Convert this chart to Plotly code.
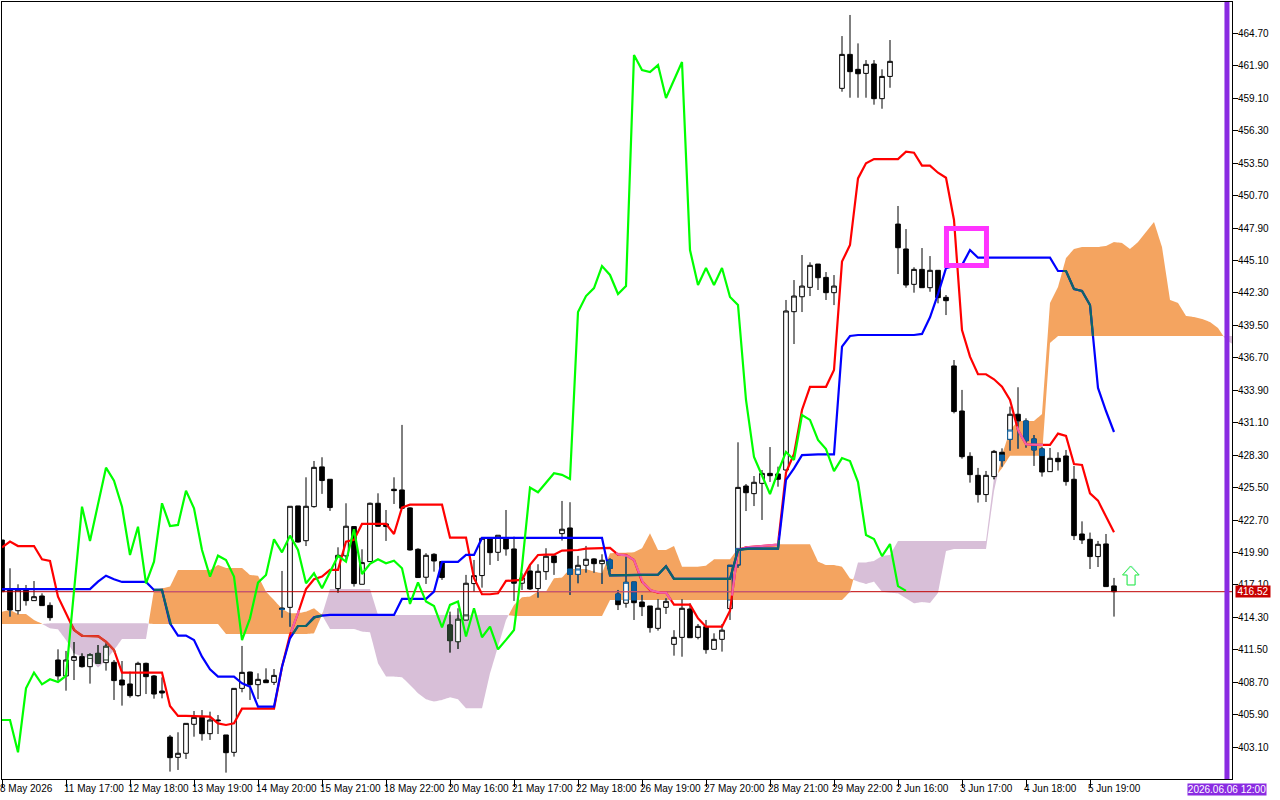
import numpy as np
import plotly.graph_objects as go

tick_bars = [0, 8, 16, 24, 32, 40, 48, 56, 64, 72, 80, 88, 96, 104, 112, 120, 128, 136]
tick_labels = ["8 May 2026", "11 May 17:00", "12 May 18:00", "13 May 19:00", "14 May 20:00", "15 May 21:00",
               "18 May 22:00", "20 May 16:00", "21 May 17:00", "22 May 18:00", "26 May 19:00", "27 May 20:00",
               "28 May 21:00", "29 May 22:00", "2 Jun 16:00", "3 Jun 17:00", "4 Jun 18:00", "5 Jun 19:00"]
price_ticks = [403.1, 405.9, 408.7, 411.5, 414.3, 417.1, 419.9, 422.7, 425.5, 428.3, 431.1, 433.9, 436.7, 439.5,
               442.3, 445.1, 447.9, 450.7, 453.5, 456.3, 459.1, 461.9, 464.7]
last_price = 416.52

opens = [420.98,416.67,414.88,416.67,415.75,416.15,415.34,410.63,409.25,410.60,
         410.92,410.05,411.20,410.40,410.43,408.90,408.56,407.55,410.34,409.25,
         407.95,403.98,402.23,402.58,405.08,405.68,404.27,405.45,404.16,402.66,
         408.18,409.59,408.50,408.90,408.70,415.11,415.17,423.92,420.92,423.86,
         427.29,426.22,416.79,419.61,422.14,417.16,419.12,424.15,422.37,425.36,
         425.30,423.75,420.18,417.77,419.75,419.12,413.65,412.21,414.08,417.22,
         417.91,421.07,419.92,421.16,420.21,417.25,418.31,416.79,418.25,419.61,
         421.53,422.02,418.02,418.80,419.35,418.94,419.26,416.32,415.52,417.36,
         415.63,415.29,413.36,415.17,411.98,412.58,415.03,412.58,413.50,411.55,
         412.41,415.06,418.82,425.64,424.98,425.87,426.73,426.68,427.02,440.68,
         441.97,442.78,444.79,443.64,442.32,459.95,462.88,461.59,461.24,462.05,
         459.06,460.98,448.24,446.09,443.04,444.33,442.75,444.25,441.92,436.00,
         432.11,428.20,426.56,424.90,426.45,428.55,429.67,431.83,431.25,429.70,
         428.84,426.88,428.03,428.23,426.22,421.50,421.04,419.55,420.64,417.02]
highs = [420.98,418.54,417.16,417.10,417.44,416.38,415.60,411.55,411.41,412.18,
         411.20,411.20,411.92,412.07,410.63,410.54,409.62,410.48,410.40,409.33,
         409.13,404.16,404.39,405.16,406.23,406.31,406.17,405.88,404.16,408.18,
         411.84,409.62,409.48,409.91,409.85,418.31,423.89,423.92,426.39,427.80,
         428.12,426.22,420.35,424.15,422.17,420.18,424.21,425.01,423.57,426.39,
         430.91,423.81,420.27,419.84,419.84,419.12,414.80,415.09,417.97,419.26,
         421.13,421.13,421.39,423.57,421.27,418.11,418.89,418.89,420.27,419.69,
         424.35,424.24,419.61,420.47,419.41,419.75,419.40,416.67,419.54,417.36,
         416.24,415.29,415.86,415.95,413.20,415.86,415.52,413.73,414.08,412.93,
         413.73,418.82,429.41,425.81,426.50,427.02,429.00,427.31,441.69,443.41,
         445.57,444.94,444.79,444.10,443.84,464.46,466.28,463.83,462.39,462.39,
         461.59,464.12,449.80,447.81,444.51,446.17,445.48,444.27,442.12,436.51,
         433.93,428.55,427.20,426.94,428.75,428.89,432.49,434.16,431.48,430.04,
         428.98,428.92,428.55,428.75,427.37,422.59,421.62,420.90,421.50,417.71]
lows = [416.52,414.37,414.57,415.32,415.75,415.32,414.02,408.85,407.98,408.90,
        409.97,408.59,410.28,409.71,407.18,406.69,407.38,407.46,407.69,407.29,
        407.32,401.00,401.14,402.09,404.01,403.67,403.73,404.24,400.91,402.29,
        407.84,407.18,407.26,408.67,408.47,414.28,413.50,420.75,420.46,423.77,
        424.96,423.49,416.44,419.26,416.96,417.16,419.12,422.14,420.90,424.09,
        423.72,420.07,417.74,417.19,418.25,417.54,411.27,411.58,414.08,416.53,
        416.87,418.83,419.17,419.63,415.72,416.67,416.67,416.01,417.54,417.97,
        420.93,416.24,417.25,418.17,418.17,417.19,418.25,414.94,415.14,414.08,
        414.42,412.99,413.16,414.60,411.00,410.91,412.55,412.41,411.17,411.55,
        411.35,414.08,418.59,423.48,423.91,422.71,425.99,425.58,426.96,437.89,
        440.65,442.03,442.55,441.69,441.25,459.66,459.14,459.14,459.14,458.54,
        458.19,460.00,443.93,442.75,442.32,442.75,442.40,441.40,440.39,431.91,
        428.00,425.93,424.21,424.26,426.22,427.31,428.69,428.86,428.95,427.37,
        426.45,426.88,426.97,425.67,420.98,420.64,418.48,418.65,416.96,414.37]
closes = [416.52,414.94,416.67,415.75,416.09,415.32,414.28,409.25,410.63,410.92,
          410.05,411.09,410.34,411.81,408.85,408.47,407.55,410.34,409.19,407.69,
          407.78,402.20,402.58,405.16,405.68,404.27,405.45,405.39,402.63,408.18,
          409.56,408.50,408.96,408.67,409.30,415.00,423.89,420.81,423.89,427.25,
          426.11,423.78,419.66,422.17,417.22,419.03,424.15,422.17,422.14,425.24,
          423.72,420.12,417.74,419.66,419.17,417.74,412.30,414.14,417.25,417.91,
          421.13,419.89,421.39,420.21,417.25,417.71,416.76,418.28,419.58,419.03,
          421.91,418.02,418.80,419.32,418.94,419.23,418.54,415.40,417.33,415.57,
          415.23,413.42,415.09,415.69,412.58,415.09,412.55,413.53,411.52,412.41,
          413.20,418.80,425.52,425.06,425.96,426.73,426.53,426.22,440.74,442.03,
          442.89,444.68,443.61,442.32,442.89,462.88,461.39,461.21,462.02,459.06,
          460.98,462.28,446.20,442.98,444.33,442.75,444.25,441.89,441.63,432.06,
          428.17,426.62,424.90,426.56,428.63,427.83,431.83,431.25,429.55,428.75,
          426.85,428.03,427.74,426.02,421.36,420.98,419.55,420.61,416.96,416.52]

tenkan = [420.35,420.84,420.46,420.46,420.46,419.31,419.17,416.09,414.66,413.22,
          412.70,412.70,412.70,412.21,411.49,409.54,409.54,409.54,409.54,409.54,
          409.54,406.66,405.80,405.80,405.80,405.80,405.74,405.16,405.02,405.16,
          406.43,406.43,406.43,406.43,406.43,410.05,412.79,414.66,416.75,417.60,
          417.82,418.40,418.40,420.84,420.99,422.37,422.37,422.37,422.37,421.50,
          423.78,424.03,424.03,424.03,424.03,424.03,421.19,421.19,421.19,417.68,
          416.30,416.30,416.38,417.45,417.48,417.54,418.83,419.69,419.72,419.72,
          420.07,420.07,420.12,420.24,420.24,420.24,420.30,419.72,419.69,419.26,
          417.39,416.67,416.44,416.44,415.40,415.40,415.40,414.22,413.50,413.50,
          413.50,414.88,420.12,420.35,420.41,420.46,420.58,420.58,426.80,428.40,
          432.20,434.20,434.20,434.20,435.65,445.00,446.43,452.18,453.48,453.85,
          453.85,453.85,453.85,454.48,454.40,453.28,453.28,452.67,452.24,448.59,
          439.10,436.80,435.28,435.28,434.85,434.21,433.06,430.47,429.24,429.18,
          429.18,429.18,430.16,429.96,427.54,427.46,425.01,424.38,423.00,421.65]
kijun = [416.75,416.75,416.75,416.75,416.75,416.75,416.75,416.75,416.75,416.75,
         416.75,416.75,417.39,417.90,417.59,417.36,417.36,417.36,417.36,416.67,
         416.67,413.79,412.73,412.73,412.35,410.92,409.82,409.19,409.19,409.19,
         408.61,408.33,406.60,406.60,406.60,410.05,412.50,413.56,413.56,414.31,
         414.46,414.52,414.52,414.52,414.52,414.52,414.52,414.52,414.52,414.52,
         415.90,415.90,415.90,415.90,416.53,419.09,419.09,419.09,419.69,419.69,
         421.16,421.16,421.16,421.16,421.16,421.16,421.16,421.16,421.16,421.16,
         421.16,421.16,421.16,421.16,421.16,421.16,417.93,417.93,417.93,417.93,
         417.93,417.93,417.99,418.71,417.62,417.62,417.62,417.62,417.62,417.62,
         417.62,417.62,420.12,420.23,420.23,420.23,420.23,420.23,426.16,427.16,
         428.31,428.37,428.37,428.37,428.37,437.66,438.58,438.67,438.67,438.67,
         438.67,438.67,438.67,438.67,438.67,438.76,440.20,442.20,444.44,444.62,
         444.70,446.00,445.34,445.34,445.34,445.34,445.34,445.34,445.34,445.34,
         445.34,445.34,444.19,444.19,442.64,442.47,441.26,434.10,432.11,430.30]
chikou = [405.45,405.45,402.66,408.18,409.54,408.53,408.96,408.73,409.25,416.67,
          423.86,420.90,424.15,427.22,426.10,423.86,419.69,422.13,417.24,419.11,
          424.15,422.19,422.28,425.24,423.71,420.12,417.82,419.63,419.26,417.82,
          412.35,414.22,417.30,417.96,421.04,419.92,421.36,420.12,417.24,418.11,
          416.82,418.25,419.61,419.12,421.91,418.05,418.92,419.32,418.97,419.20,
          418.54,415.46,417.33,415.67,415.29,413.45,415.38,415.67,412.65,415.09,
          412.59,413.51,411.55,412.36,413.22,418.69,425.50,425.10,425.88,426.74,
          426.60,426.25,440.65,442.03,442.72,444.62,443.85,442.21,442.90,462.83,
          461.53,461.36,461.96,459.12,460.67,462.22,446.00,442.98,444.45,442.98,
          444.45,441.95,441.26,433.06,428.14,426.50,424.95,426.85,428.58,427.89,
          431.77,431.34,429.61,428.83,426.93,428.05,427.79,425.98,421.41,421.06,
          419.59,420.63,417.00,416.59]
span_a = [414.80,414.94,414.60,414.60,414.08,413.75,413.36,413.27,412.35,411.20,
          410.92,410.77,409.97,410.63,411.49,412.44,412.44,412.44,412.44,416.67,
          416.81,416.96,418.39,418.39,418.39,418.39,418.39,418.83,418.57,418.57,
          418.57,417.96,417.90,416.52,415.80,415.03,414.66,414.66,414.80,415.09,
          414.52,413.31,413.31,413.31,413.31,413.08,413.02,410.35,409.20,409.20,
          409.14,408.48,407.76,407.24,407.04,407.18,407.41,407.24,406.46,406.46,
          406.46,409.48,411.78,414.08,415.38,416.04,416.10,416.53,416.53,417.68,
          417.74,418.48,418.48,418.48,418.25,418.11,419.83,419.89,419.89,419.92,
          420.26,421.56,420.12,420.12,420.46,418.68,418.68,418.68,418.77,419.31,
          419.31,419.31,420.26,420.41,420.46,420.46,420.61,420.61,420.61,420.61,
          420.61,420.61,419.11,418.82,418.82,418.68,417.67,417.39,417.19,417.39,
          416.52,416.44,416.38,415.95,415.52,415.63,415.55,416.42,420.04,420.21,
          420.21,420.21,420.21,420.21,425.20,428.31,430.47,431.25,431.25,431.25,
          431.85,441.43,442.81,445.31,446.09,446.26,446.26,446.26,446.35,446.69,
          446.61,446.09,446.69,447.56,448.42,446.26,441.69,441.43,440.31,440.22,
          440.05,439.79,439.27,438.24,437.81]
span_b = [413.73,413.73,413.73,413.73,413.73,413.73,413.79,413.79,413.79,413.79,
          413.79,413.79,413.79,413.79,413.79,413.79,413.79,413.79,413.79,413.73,
          413.73,413.73,413.73,413.73,413.73,413.73,413.73,413.73,412.87,412.87,
          412.87,412.87,412.87,412.87,412.87,412.87,412.87,412.87,412.87,412.93,
          414.52,416.76,416.76,416.76,416.76,416.76,416.76,414.52,414.52,414.52,
          414.52,414.52,414.52,414.52,414.52,414.52,414.52,414.52,414.52,414.52,
          414.52,414.52,414.52,414.52,414.43,414.43,414.43,414.43,414.43,414.43,
          414.43,414.43,414.43,414.43,414.43,414.43,415.80,415.80,415.80,415.80,
          415.80,415.80,415.80,415.80,415.80,415.80,415.80,415.80,415.80,415.80,
          415.80,415.80,415.80,415.80,415.80,415.80,415.80,415.80,415.80,415.80,
          415.80,415.80,415.80,415.80,415.80,415.80,416.52,419.05,419.05,419.17,
          419.60,419.69,420.89,420.89,420.89,420.89,420.89,420.89,420.89,420.89,
          420.89,420.89,420.89,420.89,426.33,427.17,428.26,428.26,428.26,428.26,
          428.26,437.98,438.58,438.58,438.58,438.58,438.58,438.58,438.58,438.58,
          438.58,438.58,438.58,438.58,438.58,438.58,438.58,438.58,438.58,438.58,
          438.58,438.58,438.58,438.58,438.58]
clear_bars = [91, 92]
box_bars = [118.06, 123.06]
box_prices = [444.67, 447.86]
divider_bar = 153.12
arrow_bar = 141.06
arrow_price = 417.92

ORANGE, THISTLE = "#F4A460", "#D8BFD8"
BLUE_IN, DARK_IN = "#0A5FA0", "#263D2A"
LINE_W = 2.2
A, B = np.array(span_a), np.array(span_b)
bars = np.arange(len(A))
fine = np.arange(0, len(A) - 1 + 1e-9, 0.125)
fa, fb = np.interp(fine, bars, A), np.interp(fine, bars, B)


def runs(mask):
    out, start = [], None
    for k, m in enumerate(mask):
        if m and start is None:
            start = k
        if not m and start is not None:
            out.append((start, k))
            start = None
    if start is not None:
        out.append((start, len(mask) - 1))
    return out


def inside(x_arr, y_arr, orange):
    a, b = np.interp(x_arr, bars, A), np.interp(x_arr, bars, B)
    lo, hi = np.minimum(a, b), np.maximum(a, b)
    return (y_arr >= lo) & (y_arr <= hi) & ((a >= b) == orange)


def line_overlap(series, orange):
    n = len(series)
    xf = np.arange(0, n - 1 + 1e-9, 0.125)
    yf = np.interp(xf, np.arange(n), series)
    mask = inside(xf, yf, orange)
    xs, ys = [], []
    for s, e in runs(mask):
        xs += list(xf[s:e + 1]) + [None]
        ys += list(yf[s:e + 1]) + [None]
    return xs, ys


fig = go.Figure()
# The cloud is a below-traces shape so that the candles sit on top of it.
for mask, col in ((fa >= fb, ORANGE), (fa < fb, THISTLE)):
    path = ""
    for s, e in runs(mask):
        px = list(fine[s:e + 1]) + list(fine[s:e + 1][::-1])
        py = list(fa[s:e + 1]) + list(fb[s:e + 1][::-1])
        path += "M " + " L ".join(f"{u:.3f} {v:.3f}" for u, v in zip(px, py)) + " Z "
    fig.add_shape(type="path", path=path, fillcolor=col, line=dict(width=0), layer="below")

idx = np.arange(len(opens))
O, H, L, C = map(np.array, (opens, highs, lows, closes))
normal = ~np.isin(idx, clear_bars)


def candles(sel, o, h, l, c, up_line, dn_line, up_fill, dn_fill):
    fig.add_trace(go.Candlestick(
        x=idx[sel], open=o[sel], high=h[sel], low=l[sel], close=c[sel],
        increasing=dict(line=dict(color=up_line, width=1), fillcolor=up_fill),
        decreasing=dict(line=dict(color=dn_line, width=1), fillcolor=dn_fill),
        whiskerwidth=0, hoverinfo="skip"))


candles(normal, O, H, L, C, "#000000", "#000000", "#FFFFFF", "#000000")
candles(~normal, O, H, L, C, "#000000", "#000000", "rgba(0,0,0,0)", "#000000")

for orange, col in ((True, BLUE_IN), (False, DARK_IN)):
    xw, yw = [], []
    sel = np.zeros(len(idx), bool)
    ob, hb, lb, cb = O.copy(), H.copy(), L.copy(), C.copy()
    for i in idx:
        if (A[i] >= B[i]) != orange:
            continue
        lo, hi = min(A[i], B[i]), max(A[i], B[i])
        top, bot = max(O[i], C[i]), min(O[i], C[i])
        for seg_lo, seg_hi in ((max(top, lo), min(H[i], hi)), (max(L[i], lo), min(bot, hi))):
            if seg_hi > seg_lo:
                xw += [i, i, None]
                yw += [seg_lo, seg_hi, None]
        if min(top, hi) > max(bot, lo):
            sel[i] = True
            ob[i], cb[i] = np.clip(O[i], lo, hi), np.clip(C[i], lo, hi)
            hb[i], lb[i] = max(ob[i], cb[i]), min(ob[i], cb[i])
    fig.add_trace(go.Scatter(x=xw, y=yw, mode="lines", line=dict(color=col, width=1), hoverinfo="skip"))
    s1 = sel & normal
    s2 = sel & ~normal
    candles(s1, ob, hb, lb, cb, col, col, "#FFFFFF", col)
    if s2.any():
        candles(s2, ob, hb, lb, cb, col, col, "rgba(0,0,0,0)", col)

price_x = [0, 153.75]
price_y = [last_price, last_price]
fig.add_trace(go.Scatter(x=price_x, y=price_y, mode="lines", line=dict(color="#C00000", width=1), hoverinfo="skip"))
px_x = np.arange(0, 153.75, 0.125)
pm = inside(px_x, np.full_like(px_x, last_price), True)
xs, ys = [], []
for s, e in runs(pm):
    xs += [px_x[s], px_x[e], None]
    ys += [last_price, last_price, None]
fig.add_trace(go.Scatter(x=xs, y=ys, mode="lines", line=dict(color="#C0648C", width=1), hoverinfo="skip"))


def ichi(series, base, in_orange, in_thistle):
    fig.add_trace(go.Scatter(x=list(range(len(series))), y=series, mode="lines",
                             line=dict(color=base, width=LINE_W), hoverinfo="skip"))
    for orange, col in ((True, in_orange), (False, in_thistle)):
        if col is None:
            continue
        xs, ys = line_overlap(np.array(series), orange)
        fig.add_trace(go.Scatter(x=xs, y=ys, mode="lines", line=dict(color=col, width=LINE_W), hoverinfo="skip"))


ichi(tenkan, "#FF0000", "#F060A8", "#D8402C")
ichi(kijun, "#0000FF", "#0E6666", None)
ichi(chikou, "#00FF00", None, None)

fig.add_shape(type="rect", x0=box_bars[0], x1=box_bars[1], y0=box_prices[0], y1=box_prices[1],
              line=dict(color="#FF33FF", width=5), layer="above")
fig.add_shape(type="line", x0=divider_bar, x1=divider_bar, yref="paper", y0=0, y1=1,
              line=dict(color="#8A2BE2", width=5), layer="above")
arrow_path = "M 0 9.5 L 8.5 0.5 L 4.5 0.5 L 4.5 -9.5 L -3.5 -9.5 L -3.5 0.5 L -8 0.5 Z"
arrow_path2 = "M 1 9.5 L 9 0.5 L 5 0.5 L 5 -9.5 L -3 -9.5 L -3 0.5 L -7.5 0.5 Z"
for path, col in ((arrow_path2, "rgba(120,230,230,0.8)"), (arrow_path, "#44EE44")):
    fig.add_shape(type="path", path=path, xsizemode="pixel", ysizemode="pixel",
                  xanchor=arrow_bar, yanchor=arrow_price, line=dict(color=col, width=1), layer="above")

FONT = "Liberation Sans"
fig.add_annotation(xref="paper", yref="y", x=1.00244, y=last_price, xanchor="left", yanchor="middle",
                   text=f"{last_price:.2f}", showarrow=False, bgcolor="#C80000", width=34, height=11, borderpad=0,
                   font=dict(family=FONT, size=10, color="#FFFFFF"))
fig.add_annotation(xref="paper", yref="paper", x=0.96341, y=-0.0135, xanchor="left", yanchor="middle",
                   text="2026.06.06 12:00", showarrow=False, bgcolor="#8A2BE2", width=78, height=11, borderpad=0,
                   font=dict(family=FONT, size=10, color="#FFFFFF"))

fig.update_layout(
    width=1280, height=800, margin=dict(l=2, r=48, t=2, b=21, autoexpand=False),
    paper_bgcolor="#FFFFFF", plot_bgcolor="#FFFFFF", showlegend=False,
    boxgap=0.42, boxgroupgap=0, boxmode="overlay",
    font=dict(family=FONT, size=10, color="#000000"),
    xaxis=dict(range=[0, 153.75], tickmode="array", tickvals=tick_bars, ticktext=tick_labels, tickangle=0,
               ticks="outside", ticklen=7, tickcolor="#000000", showgrid=False, zeroline=False,
               showline=True, linecolor="#000000", linewidth=1, mirror=True, ticklabelshift=-3,
               rangeslider=dict(visible=False), ticklabelposition="outside right", automargin=False),
    yaxis=dict(range=[400.36, 467.4], side="right", tickmode="array", tickvals=price_ticks,
               tickformat=".2f", ticks="outside", ticklen=5, tickcolor="#000000", showgrid=False,
               ticklabelstandoff=-2, zeroline=False, showline=True, linecolor="#000000", linewidth=1, mirror=True,
               automargin=False),
)
fig.write_html("out.html", config=dict(displayModeBar=False),
               post_script="document.body.style.margin='0';document.body.style.overflow='hidden';")
